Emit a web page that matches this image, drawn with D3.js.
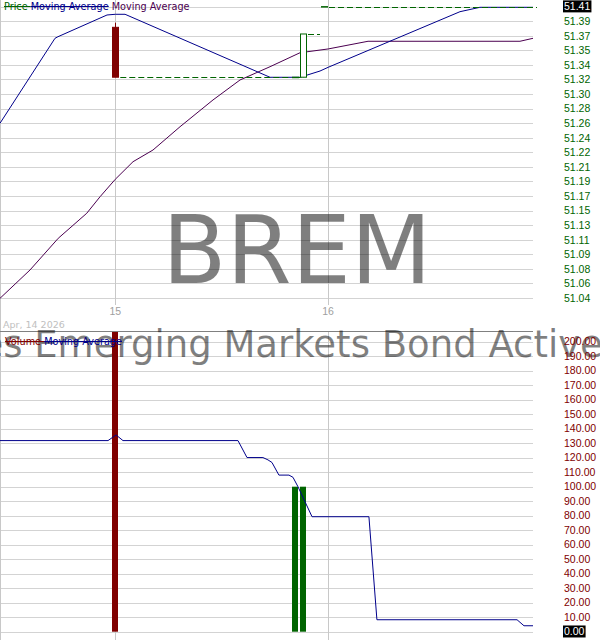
<!DOCTYPE html>
<html>
<head>
<meta charset="utf-8">
<script src="https://cdn.jsdelivr.net/npm/d3@7"></script>
<style>
  body { margin: 0; background: #fff; }
  svg { display: block; }
</style>
</head>
<body>
<div id="chart"></div>
<script>
// ---- data ----
const barTimes  = ["2026-04-15 00:00", "2026-04-15 20:16", "2026-04-15 21:10", "2026-04-15 23:32"];
const barOpen   = [51.3836, 51.32, 51.32, 51.41];
const barHigh   = [51.3895, 51.32, 51.3751, 51.41];
const barLow    = [51.32, 51.32, 51.32, 51.41];
const barClose  = [51.32, 51.32, 51.3751, 51.41];
const barVolume = [400, 100, 100, 0];

// blue moving average
const maFastTimes  = ["2026-04-14 11:00", "2026-04-14 17:12", "2026-04-14 17:32", "2026-04-14 23:04",
                      "2026-04-15 00:00", "2026-04-15 01:06", "2026-04-15 17:27", "2026-04-15 20:50",
                      "2026-04-15 23:05", "2026-04-16 00:00", "2026-04-16 14:52", "2026-04-16 17:07",
                      "2026-04-16 23:06"];
const maFastValues = [51.2613, 51.3696, 51.3716, 51.3993, 51.4002, 51.4002, 51.3199, 51.3199,
                      51.3279, 51.3326, 51.4035, 51.4091, 51.4091];

// purple moving average
const maSlowTimes  = ["2026-04-14 11:00", "2026-04-14 14:23", "2026-04-14 17:34", "2026-04-14 20:47",
                      "2026-04-14 22:17", "2026-04-15 00:00", "2026-04-15 02:00", "2026-04-15 04:15",
                      "2026-04-15 07:18", "2026-04-15 11:01", "2026-04-15 14:04", "2026-04-15 17:27",
                      "2026-04-15 20:50", "2026-04-16 00:00", "2026-04-16 04:30", "2026-04-16 21:38",
                      "2026-04-16 23:06"];
const maSlowValues = [51.0382, 51.0743, 51.1147, 51.1466, 51.1677, 51.1899, 51.2123, 51.2272,
                      51.2569, 51.2910, 51.3165, 51.3334, 51.3512, 51.3560, 51.3658, 51.3658,
                      51.3696];

// volume moving average
const volMaTimes  = ["2026-04-14 11:00", "2026-04-14 23:11", "2026-04-15 00:05", "2026-04-15 00:52",
                     "2026-04-15 13:50", "2026-04-15 14:51", "2026-04-15 16:39", "2026-04-15 17:13",
                     "2026-04-15 17:40", "2026-04-15 18:27", "2026-04-15 19:35", "2026-04-15 20:02",
                     "2026-04-15 20:36", "2026-04-15 22:11", "2026-04-16 04:36", "2026-04-16 05:30",
                     "2026-04-16 21:18", "2026-04-16 22:05", "2026-04-16 23:06"];
const volMaValues = [131.8, 131.8, 135.7, 131.8, 131.8, 120.1, 120.1, 118.5, 116.7, 108, 108, 106.5,
                     100, 79.3, 79.3, 8.25, 8.25, 4.1, 4.1];

const priceTickLabels = ["51.04", "51.06", "51.08", "51.09", "51.11", "51.13", "51.15", "51.17",
                         "51.19", "51.21", "51.22", "51.24", "51.26", "51.28", "51.30", "51.32",
                         "51.34", "51.35", "51.37", "51.39", "51.41"];
const priceMin = 51.0386, priceMax = 51.41;
const volumeTicks = [0, 10, 20, 30, 40, 50, 60, 70, 80, 90, 100, 110, 120, 130, 140, 150, 160, 170, 180, 190, 200];
const dayTicks = ["2026-04-15 00:00", "2026-04-16 00:00"];
const dayLabels = ["15", "16"];
const timeStart = "2026-04-14 11:00", timeEnd = "2026-04-16 23:06";
const lastPrice = "51.41";

// ---- layout ----
const width = 600, height = 640;
const plotRight = 533;
const labelX = 564;
const priceColor = "#006400", volColor = "#800000";
const blue = "#00008b", purple = "#4b0050", grid = "#d3d3d3", vgrid = "#c8c8c8";

const parse = d3.timeParse("%Y-%m-%d %H:%M");

const svg = d3.select("#chart").append("svg")
  .attr("width", width).attr("height", height)
  .style("font-family", "'Liberation Sans', Arial, sans-serif");

const x = d3.scaleTime().domain([parse(timeStart), parse(timeEnd)]).range([0, plotRight]);
const y = d3.scaleLinear().domain([priceMin, priceMax]).range([298, 6.6]);
const yv = d3.scaleLinear().domain([0, 200]).range([631.7, 341.7]);

const priceTickVal = i => priceMin + i * (priceMax - priceMin) / (priceTickLabels.length - 1);

const defs = svg.append("defs");
defs.append("clipPath").attr("id", "clipTop")
  .append("rect").attr("x", 0).attr("y", 0).attr("width", plotRight + 4).attr("height", 305);
defs.append("clipPath").attr("id", "clipVol")
  .append("rect").attr("x", 0).attr("y", 332).attr("width", plotRight + 4).attr("height", 308);

// ---- grid ----
svg.append("g").selectAll("line")
  .data(priceTickLabels)
  .join("line")
  .attr("x1", 0).attr("x2", plotRight)
  .attr("y1", (d, i) => Math.round(y(priceTickVal(i))) + 0.5)
  .attr("y2", (d, i) => Math.round(y(priceTickVal(i))) + 0.5)
  .attr("stroke", grid);

svg.append("g").selectAll("line")
  .data(volumeTicks)
  .join("line")
  .attr("x1", 0).attr("x2", plotRight)
  .attr("y1", d => Math.round(yv(d)) + 0.5)
  .attr("y2", d => Math.round(yv(d)) + 0.5)
  .attr("stroke", grid);

dayTicks.forEach(t => {
  const xx = Math.round(x(parse(t))) + 0.5;
  svg.append("line").attr("x1", xx).attr("x2", xx).attr("y1", 0).attr("y2", 305).attr("stroke", vgrid);
  svg.append("line").attr("x1", xx).attr("x2", xx).attr("y1", 332).attr("y2", height).attr("stroke", vgrid);
});
svg.append("line").attr("x1", 0.5).attr("x2", 0.5).attr("y1", 0).attr("y2", height).attr("stroke", vgrid);

// divider between panels
svg.append("line").attr("x1", 0).attr("x2", plotRight).attr("y1", 331.5).attr("y2", 331.5)
  .attr("stroke", "#808080");

// ---- watermarks ----
svg.append("text")
  .attr("x", 297).attr("y", 283.3)
  .attr("text-anchor", "middle")
  .style("font-family", "'DejaVu Sans', sans-serif")
  .style("font-size", "93.7px")
  .attr("fill", "#000").attr("fill-opacity", 0.5)
  .text("BREM");

svg.append("text")
  .attr("x", 284).attr("y", 357)
  .attr("text-anchor", "middle")
  .style("font-family", "'DejaVu Sans', sans-serif")
  .style("font-size", "37px")
  .attr("fill", "#000").attr("fill-opacity", 0.5)
  .text("iShares Emerging Markets Bond Active ETF");

// ---- x axis labels ----
svg.append("g").selectAll("text")
  .data(dayTicks)
  .join("text")
  .attr("x", d => x(parse(d)))
  .attr("y", 315)
  .attr("text-anchor", "middle")
  .style("font-size", "10.5px")
  .attr("fill", "#a0a0a0")
  .text((d, i) => dayLabels[i]);

svg.append("text")
  .attr("x", 3).attr("y", 328)
  .style("font-family", "'DejaVu Sans', sans-serif")
  .style("font-size", "9.5px")
  .attr("fill", "#c0c0c0")
  .text("Apr, 14 2026");

// ---- price panel ----
const priceG = svg.append("g").attr("clip-path", "url(#clipTop)");

const line = d3.line().x(d => x(d[0])).y(d => y(d[1]));
priceG.append("path")
  .datum(maSlowTimes.map((t, i) => [parse(t), maSlowValues[i]]))
  .attr("d", line).attr("fill", "none").attr("stroke", purple);
priceG.append("path")
  .datum(maFastTimes.map((t, i) => [parse(t), maFastValues[i]]))
  .attr("d", line).attr("fill", "none").attr("stroke", blue);

const bars = barTimes.map((t, i) => ({
  t: parse(t), o: barOpen[i], h: barHigh[i], l: barLow[i], c: barClose[i], v: barVolume[i]
}));

// dashed last-close lines to the next bar
priceG.append("g").selectAll("line")
  .data(bars)
  .join("line")
  .attr("x1", d => x(d.t) + 5)
  .attr("x2", (d, i) => i < bars.length - 1 ? x(bars[i + 1].t) - 4 : plotRight + 4)
  .attr("y1", d => Math.round(y(d.c)) + 0.5)
  .attr("y2", d => Math.round(y(d.c)) + 0.5)
  .attr("stroke", priceColor)
  .attr("stroke-dasharray", "6,3");

const candle = priceG.append("g").selectAll("g")
  .data(bars)
  .join("g");
candle.append("line")
  .attr("x1", d => Math.round(x(d.t)) + 0.5).attr("x2", d => Math.round(x(d.t)) + 0.5)
  .attr("y1", d => y(d.h)).attr("y2", d => y(d.l))
  .attr("stroke", d => d.c < d.o ? volColor : priceColor);
candle.append("rect")
  .attr("x", d => Math.round(x(d.t)) - 2.5)
  .attr("width", 6)
  .attr("y", d => y(Math.max(d.o, d.c)))
  .attr("height", d => Math.max(0.5, Math.abs(y(d.o) - y(d.c))))
  .attr("fill", d => d.c < d.o ? volColor : "#fff")
  .attr("stroke", d => d.c < d.o ? volColor : priceColor);

// ---- volume panel ----
const vol = svg.append("g").attr("clip-path", "url(#clipVol)");
vol.append("g").selectAll("rect")
  .data(bars.filter(d => d.v > 0))
  .join("rect")
  .attr("x", d => Math.round(x(d.t)) - 3)
  .attr("width", 6)
  .attr("y", d => yv(d.v))
  .attr("height", d => yv(0) - yv(d.v))
  .attr("fill", d => d.c < d.o ? volColor : priceColor);

vol.append("path")
  .datum(volMaTimes.map((t, i) => [parse(t), volMaValues[i]]))
  .attr("d", d3.line().x(d => x(d[0])).y(d => yv(d[1])))
  .attr("fill", "none").attr("stroke", blue);

// ---- right-hand tick labels ----
svg.append("g").selectAll("text")
  .data(priceTickLabels)
  .join("text")
  .attr("x", labelX)
  .attr("y", (d, i) => y(priceTickVal(i)))
  .attr("dy", "0.36em")
  .style("font-size", "10.5px")
  .attr("fill", d => d === lastPrice ? "#fff" : priceColor)
  .text(d => d)
  .each(function (d) {
    if (d !== lastPrice) return;
    const b = this.getBBox();
    d3.select(this.parentNode).insert("rect", "text")
      .attr("x", b.x - 1).attr("y", b.y).attr("width", b.width + 2).attr("height", b.height)
      .attr("fill", "#000");
  });

const fmt = d3.format(".2f");
svg.append("g").selectAll("text")
  .data(volumeTicks)
  .join("text")
  .attr("x", labelX)
  .attr("y", d => yv(d))
  .attr("dy", "0.36em")
  .style("font-size", "10.5px")
  .attr("fill", d => d === 0 ? "#fff" : volColor)
  .text(d => fmt(d))
  .each(function (d) {
    if (d !== 0) return;
    const b = this.getBBox();
    d3.select(this.parentNode).insert("rect", "text")
      .attr("x", b.x - 1).attr("y", b.y).attr("width", b.width + 2).attr("height", b.height)
      .attr("fill", "#000");
  });

// ---- legends ----
function legend(items, x0, baseline, strikeY) {
  const g = svg.append("g").style("font-family", "'DejaVu Sans', sans-serif").style("font-size", "9.7px");
  let cx = x0;
  items.forEach(it => {
    const t = g.append("text").attr("x", cx).attr("y", baseline).attr("fill", it.color).text(it.label);
    const w = t.node().getComputedTextLength();
    const next = cx + w + 3.1;
    if (it.strike) {
      g.insert("line", "text").attr("x1", cx).attr("x2", it.strikeToNext ? next : cx + w)
        .attr("y1", strikeY).attr("y2", strikeY).attr("stroke", it.color);
    }
    cx = next;
  });
}
legend([
  { label: "Price", color: priceColor, strike: true, strikeToNext: true },
  { label: "Moving Average", color: blue, strike: true },
  { label: "Moving Average", color: purple }
], 4, 10, 6.5);
legend([
  { label: "Volume", color: volColor, strike: true, strikeToNext: true },
  { label: "Moving Average", color: blue, strike: true }
], 5, 344.5, 341.5);
</script>
</body>
</html>
